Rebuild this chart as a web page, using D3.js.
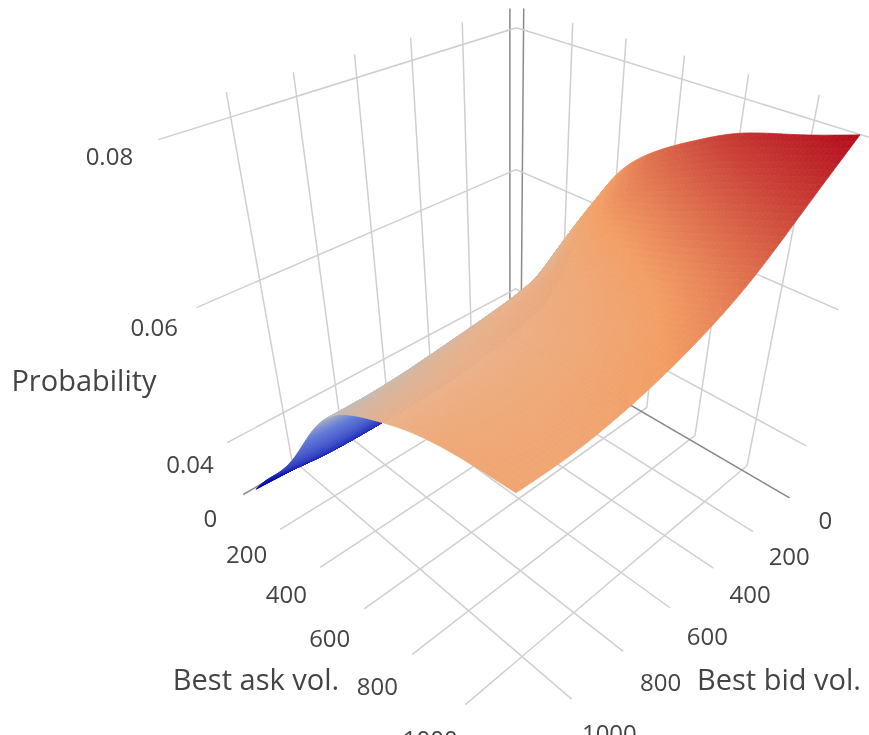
<!DOCTYPE html>
<html>
<head>
<meta charset="utf-8">
<script src="https://cdn.jsdelivr.net/npm/d3@7"></script>
<style>
  html, body { margin: 0; padding: 0; background: #fff; overflow: hidden; }
  svg { filter: blur(0.6px); display: block; }
  text { font-family: "Open Sans", sans-serif; fill: #444; }
</style>
</head>
<body>
<div id="chart"></div>
<script>
const askTicks = [0, 200, 400, 600, 800, 1000];
const bidTicks = [0, 200, 400, 600, 800, 1000];
const probTicks = [0.04, 0.06, 0.08];

const askValues = [20, 100, 200, 300, 400, 500, 600, 700, 800, 900, 1000, 1135];
const bidValues = [0, 200, 400, 600, 800, 1000, 1165];

// one row per bid value, one column per ask value
const probRows = [
  [0.036, 0.038, 0.045, 0.057, 0.0655, 0.0695, 0.0722, 0.0744, 0.0765, 0.0777, 0.0787, 0.0805],
  [0.034, 0.036, 0.042, 0.0515, 0.0605, 0.0665, 0.068, 0.069, 0.0705, 0.0725, 0.074, 0.0757],
  [0.033, 0.035, 0.04, 0.047, 0.0535, 0.0605, 0.064, 0.0645, 0.0655, 0.0665, 0.068, 0.0705],
  [0.0325, 0.035, 0.039, 0.045, 0.0515, 0.059, 0.0625, 0.0632, 0.064, 0.0645, 0.0655, 0.0675],
  [0.0322, 0.035, 0.039, 0.0445, 0.0505, 0.058, 0.0615, 0.062, 0.0628, 0.0635, 0.0645, 0.0655],
  [0.0322, 0.035, 0.039, 0.0445, 0.051, 0.057, 0.0602, 0.0612, 0.0628, 0.0636, 0.064, 0.0645],
  [0.0325, 0.0365, 0.0405, 0.0455, 0.052, 0.057, 0.0595, 0.0612, 0.0628, 0.0638, 0.0644, 0.0648],
];

// plotly RdBu, the middle stops lifted to what the picture shows
const colourStops = [0, 0.35, 0.5, 0.6, 0.7, 1];
const colours = ["rgb(5,10,172)", "rgb(95,120,215)", "rgb(190,190,190)", "rgb(235,178,138)", "rgb(243,158,100)", "rgb(178,10,28)"];

const w = 869;
const h = 735;

const axisMin = -30;
const askAxisMax = 1170;
const bidAxisMax = 1200;
const probMin = 0.032;
const probMax = 0.0827;

// where known box points landed in the picture: ask, bid, prob, x, y
const cameraAnchors = [
  [1000, 0, 0.032, 740, 472],
  [1000, 1000, 0.032, 523, 658],
  [0, 1000, 0.032, 297, 465],
  [0, 0, 0.032, 516, 340],
  [0, 1200, 0.032, 245, 495],
  [1170, 0, 0.032, 787, 500],
  [1000, -30, 0.08, 815, 122],
  [600, -30, 0.08, 683, 80],
  [200, -30, 0.08, 573, 45],
  [0, -30, 0.08, 525, 30],
  [-30, 0, 0.08, 505, 31],
  [-30, 1000, 0.08, 232, 117],
  [-30, 400, 0.08, 410, 62],
  [-30, -30, 0.08, 518, 27],
  [-30, -30, 0.06, 518, 167],
  [1000, -30, 0.06, 783, 283],
  [-30, 1000, 0.06, 257, 280],
  [1000, -30, 0.04, 758, 413],
  [-30, 1000, 0.04, 282, 412],
  [-30, 1200, 0.08, 158, 140],
  [-30, 1200, 0.06, 197, 307],
  [-30, 1200, 0.04, 228, 440],
];

const xScale = d3.scaleLinear().domain([0, 1000]).range([0, 1]);
const yScale = d3.scaleLinear().domain([0, 1000]).range([0, 1]);
const zScale = d3.scaleLinear().domain([0.03, 0.08]).range([0, 1]);

const colourScale = d3
  .scaleLinear()
  .domain(colourStops.map((s) => 0.0335 + s * (0.0805 - 0.0335)))
  .range(colours)
  .clamp(true);

function solve(m, v) {
  const n = v.length;
  for (let i = 0; i < n; i++) {
    let p = i;
    for (let r = i + 1; r < n; r++) if (Math.abs(m[r][i]) > Math.abs(m[p][i])) p = r;
    [m[i], m[p]] = [m[p], m[i]];
    [v[i], v[p]] = [v[p], v[i]];
    for (let r = i + 1; r < n; r++) {
      const f = m[r][i] / m[i][i];
      for (let c = i; c < n; c++) m[r][c] -= f * m[i][c];
      v[r] -= f * v[i];
    }
  }
  for (let i = n - 1; i >= 0; i--) {
    for (let c = i + 1; c < n; c++) v[i] -= m[i][c] * v[c];
    v[i] /= m[i][i];
  }
  return v;
}

// least squares for the 3x4 camera matrix
function fitCamera(anchors) {
  const ata = d3.range(11).map(() => new Array(11).fill(0));
  const atb = new Array(11).fill(0);
  const addRow = (row, b) => {
    row.forEach((ri, i) => {
      row.forEach((rj, j) => (ata[i][j] += ri * rj));
      atb[i] += ri * b;
    });
  };
  anchors.forEach(([a, b, z, px, py]) => {
    const X = xScale(a);
    const Y = yScale(b);
    const Z = zScale(z);
    addRow([X, Y, Z, 1, 0, 0, 0, 0, -px * X, -px * Y, -px * Z], px);
    addRow([0, 0, 0, 0, X, Y, Z, 1, -py * X, -py * Y, -py * Z], py);
  });
  return solve(ata, atb);
}

const cam = fitCamera(cameraAnchors);

function project(a, b, z) {
  const X = xScale(a);
  const Y = yScale(b);
  const Z = zScale(z);
  const d = cam[8] * X + cam[9] * Y + cam[10] * Z + 1;
  return [
    (cam[0] * X + cam[1] * Y + cam[2] * Z + cam[3]) / d,
    (cam[4] * X + cam[5] * Y + cam[6] * Z + cam[7]) / d,
  ];
}

const svg = d3.select("#chart").append("svg").attr("width", w).attr("height", h);
const line = d3.line();

function path3d(points) {
  return line(points.map((p) => project(p[0], p[1], p[2])));
}

function drawGrid() {
  const grid = [];
  askTicks.forEach((t) => {
    grid.push({ zero: t === 0, pts: [[t, bidAxisMax, probMin], [t, axisMin, probMin], [t, axisMin, probMax]] });
  });
  bidTicks.forEach((t) => {
    grid.push({ zero: t === 0, pts: [[askAxisMax, t, probMin], [axisMin, t, probMin], [axisMin, t, probMax]] });
  });
  probTicks.forEach((t) => {
    grid.push({ zero: false, pts: [[axisMin, bidAxisMax, t], [axisMin, axisMin, t], [askAxisMax, axisMin, t]] });
  });

  svg
    .append("g")
    .selectAll("path")
    .data(grid)
    .enter()
    .append("path")
    .attr("d", (d) => path3d(d.pts))
    .attr("fill", "none")
    .attr("stroke", (d) => (d.zero ? "#8a8a8a" : "#cfcfcf"))
    .attr("stroke-width", 1.5);
}

function surfaceCells() {
  const perCell = 10;
  const columnSteps = (askValues.length - 1) * perCell;
  const rowSteps = (bidValues.length - 1) * perCell;
  const askAt = d3.interpolateBasis(askValues);
  const bidAt = d3.interpolateBasis(bidValues);

  const columnSplines = askValues.map((_, c) => d3.interpolateBasis(probRows.map((r) => r[c])));

  const mesh = d3.range(rowSteps + 1).map((r) => {
    const rowAt = d3.interpolateBasis(columnSplines.map((s) => s(r / rowSteps)));
    return d3.range(columnSteps + 1).map((c) => {
      const u = c / columnSteps;
      const v = r / rowSteps;
      const z = rowAt(u);
      return { xy: project(askAt(u), bidAt(v), z), z };
    });
  });

  // back corner is low ask, low bid: walking up both paints far to near
  const cells = [];
  for (let c = 0; c < columnSteps; c++) {
    for (let r = 0; r < rowSteps; r++) {
      const q = [mesh[r][c], mesh[r][c + 1], mesh[r + 1][c + 1], mesh[r + 1][c]];
      cells.push({ pts: q.map((p) => p.xy), z: d3.mean(q, (p) => p.z) });
    }
  }
  return cells;
}

function drawSurface() {
  svg
    .append("g")
    .selectAll("polygon")
    .data(surfaceCells())
    .enter()
    .append("polygon")
    .attr("points", (d) => d.pts.map((p) => p.join(",")).join(" "))
    .attr("fill", (d) => colourScale(d.z))
    .attr("stroke", (d) => colourScale(d.z))
    .attr("stroke-width", 0.7)
    .attr("stroke-linejoin", "round");
}

function drawLabels() {
  const labels = [];
  askTicks.forEach((t) => labels.push({ text: t, at: project(t, bidAxisMax + 115, probMin), shift: 5 }));
  bidTicks.forEach((t) => labels.push({ text: t, at: project(askAxisMax + 120, t, probMin), shift: 2 }));
  probTicks.forEach((t) => labels.push({ text: t.toFixed(2), at: project(axisMin, bidAxisMax + 125, t), shift: 2 }));

  svg
    .append("g")
    .selectAll("text")
    .data(labels)
    .enter()
    .append("text")
    .attr("x", (d) => d.at[0])
    .attr("y", (d) => d.at[1] + d.shift)
    .attr("dy", "0.35em")
    .attr("text-anchor", "middle")
    .attr("font-size", 24)
    .text((d) => d.text);

  const titles = [
    { text: "Probability", x: 84, y: 381 },
    { text: "Best ask vol.", x: 256, y: 680 },
    { text: "Best bid vol.", x: 779, y: 680 },
  ];

  svg
    .append("g")
    .selectAll("text")
    .data(titles)
    .enter()
    .append("text")
    .attr("x", (d) => d.x)
    .attr("y", (d) => d.y)
    .attr("dy", "0.35em")
    .attr("text-anchor", "middle")
    .attr("font-size", 29)
    .text((d) => d.text);
}

drawGrid();
drawSurface();
drawLabels();
</script>
</body>
</html>
